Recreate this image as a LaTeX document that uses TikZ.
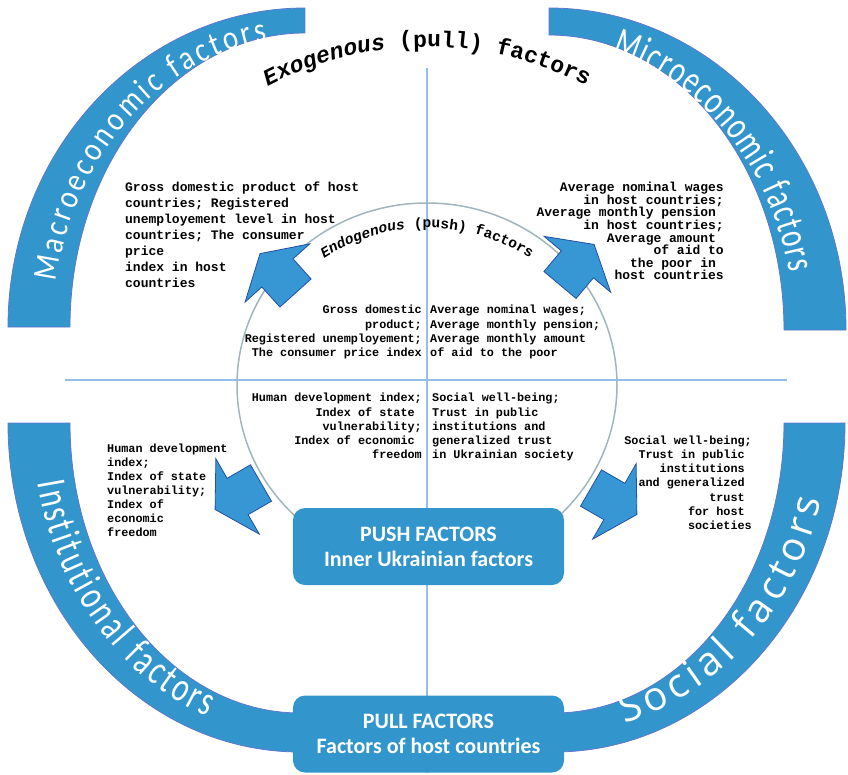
\documentclass[tikz,border=0pt]{standalone}
\usepackage{fontspec}
\setmonofont{Liberation Mono}
\newfontfamily\boxfont{Carlito}
\newfontfamily\macrofont[FakeStretch=0.85]{Carlito}
\newfontfamily\narrowfont[FakeStretch=0.72]{Carlito}
\newfontfamily\socialfont{Open Sans}
\usepackage{tikz}
\usetikzlibrary{decorations.text}
\definecolor{ringblue}{RGB}{50,150,205}
\definecolor{bandedge}{RGB}{95,120,205}
\definecolor{arrblue}{RGB}{55,150,212}
\definecolor{arrdark}{RGB}{35,80,165}
\definecolor{crossblue}{RGB}{150,190,235}
\definecolor{circgray}{RGB}{160,182,188}
\newcommand{\trail}{\hphantom{x}}
\newcommand{\headfont}{\ttfamily\bfseries\fontsize{23}{23}\selectfont}
\newcommand{\subfont}{\ttfamily\bfseries\fontsize{14.5}{14.5}\selectfont}

\begin{document}
\begin{tikzpicture}[x=1pt, y=1pt,
  band/.style = {fill=ringblue, draw=bandedge, line width=0.8pt},
  blockarr/.style = {fill=arrblue, draw=arrdark, line width=0.8pt},
  cross/.style = {draw=crossblue, line width=1.5pt},
  circ/.style = {draw=circgray, line width=1.5pt},
  factorbox/.style = {fill=ringblue, rounded corners=12pt, minimum width=271pt,
  minimum height=77pt, text=white, align=center,
  font=\boxfont\bfseries\fontsize{22}{25}\selectfont},
  body/.style = {inner sep=0pt, font=\ttfamily\bfseries\fontsize{11.8}{14.3}\selectfont},
  bigbody/.style = {inner sep=0pt, font=\ttfamily\bfseries\fontsize{13}{16}\selectfont},
  ringtext/.style = {decorate, decoration={text along path, text align={fit to path}, text={#1}}},
  headtext/.style = {decorate, decoration={text along path, text align=center, text={#1}}}]
 \useasboundingbox (-427,-394) rectangle (421,380);
 % outer ring
 \draw[band] (-419,53) arc[start angle=180, end angle=90, x radius=297, y radius=319]
  -- ++(0,-25) arc[start angle=90, end angle=180, x radius=235, y radius=294] -- cycle;
 \draw[band] (419,50) arc[start angle=0, end angle=90, x radius=297, y radius=322]
  -- ++(0,-27) arc[start angle=90, end angle=0, x radius=235, y radius=295] -- cycle;
 \draw[band] (-419,-43) arc[start angle=180, end angle=270, x radius=292, y radius=329]
  -- ++(0,39) arc[start angle=270, end angle=180, x radius=230, y radius=290] -- cycle;
 \draw[band] (418,-43) arc[start angle=0, end angle=-90, x radius=291, y radius=329]
  -- ++(0,39) arc[start angle=-90, end angle=0, x radius=230, y radius=290] -- cycle;
 \path[ringtext={|\macrofont\fontsize{34}{34}\selectfont\color{white}|Macroeconomic factors}]
  (-122,53) ++(171:252 and 290) arc[start angle=171, end angle=98.5, x radius=252, y radius=290];
 \path[ringtext={|\narrowfont\fontsize{40}{40}\selectfont\color{white}|Microeconomic factors}]
  (122,50) ++(75:245 and 287) arc[start angle=75, end angle=11.5, x radius=245, y radius=287];
 \path[ringtext={|\narrowfont\fontsize{42}{42}\selectfont\color{white}|Institutional factors}]
  (-127,-43) ++(191:267 and 313) arc[start angle=191, end angle=249.6, x radius=267, y radius=313];
 \path[ringtext={|\socialfont\fontsize{40}{40}\selectfont\color{white}|Social factors}]
  (127,-43) ++(284.7:276 and 310) arc[start angle=284.7, end angle=345.6, x radius=276, y radius=310];
 % cross and inner circle
 \draw[cross] (0,312) -- (0,-393);
 \draw[cross] (-362,0) -- (360,0);
 \draw[circ] (0,-5) ellipse[x radius=190, y radius=182];
 \foreach \sx/\sy/\a in {-131.5/87/132, 133/95/50, -166/-103/210, 164/-108/-30}
  \draw[blockarr, shift={(\sx,\sy)}, rotate=\a] (0,-21) -- (27,-21) -- (27,-43.5)
   -- (53,0) -- (27,43.5) -- (27,21) -- (0,21) -- cycle;
 \path[headtext={|\headfont\itshape|Exogenous|\headfont| (pull) factors}]
  (0,-11) ++(150:344) arc[start angle=150, end angle=30, radius=344];
 \path[headtext={|\subfont\itshape|Endogenous|\subfont| (push) factors}]
  (0,-38) ++(150:190) arc[start angle=150, end angle=30, radius=190];
 % texts
 \node[bigbody, align=left, anchor=north west] (t1) at (-302,198)
  {Gross domestic product of host\\countries; Registered\\unemployement level in host\\countries; The consumer\\price\\index in host\\countries};
 \node[inner sep=0pt, font=\ttfamily\bfseries\fontsize{13}{12.6}\selectfont,
  align=right, anchor=north east] (t2) at (297,198)
  {Average nominal wages\\in host countries;\\Average monthly pension\trail\\in host countries;\\Average amount\trail\\of aid to\\the poor in\trail\\host countries};
 \node[body, align=right, anchor=north east] (t3) at (-5,75)
  {Gross domestic\\product;\\Registered unemployement;\\The consumer price index};
 \node[body, align=left, anchor=north west] (t4) at (3,75)
  {Average nominal wages;\\Average monthly pension;\\Average monthly amount\\of aid to the poor};
 \node[body, align=right, anchor=north east] (t5) at (-5,-13)
  {Human development index;\\Index of state\trail\\vulnerability;\\Index of economic\trail\\freedom};
 \node[body, align=left, anchor=north west] (t6) at (5,-13)
  {Social well-being;\\Trust in public\\institutions and\\generalized trust\\in Ukrainian society};
 \node[inner sep=0pt, font=\ttfamily\bfseries\fontsize{11.8}{14.1}\selectfont,
  align=left, anchor=north west] (t7) at (-320,-63.5)
  {Human development\\index;\\Index of state\\vulnerability;\\Index of\\economic\\freedom};
 \node[inner sep=0pt, font=\ttfamily\bfseries\fontsize{11.8}{14.2}\selectfont,
  align=right, anchor=north east] (t8) at (325,-55.5)
  {Social well-being;\\Trust in public\trail\\institutions\trail\\and generalized\trail\\trust\trail\\for host\trail\\societies};
 % boxes
 \node[factorbox] (push) at (1.5,-166.5) {PUSH FACTORS\\Inner Ukrainian factors};
 \node[factorbox] (pull) at (1.5,-354) {PULL FACTORS\\Factors of host countries};
\end{tikzpicture}
\end{document}
